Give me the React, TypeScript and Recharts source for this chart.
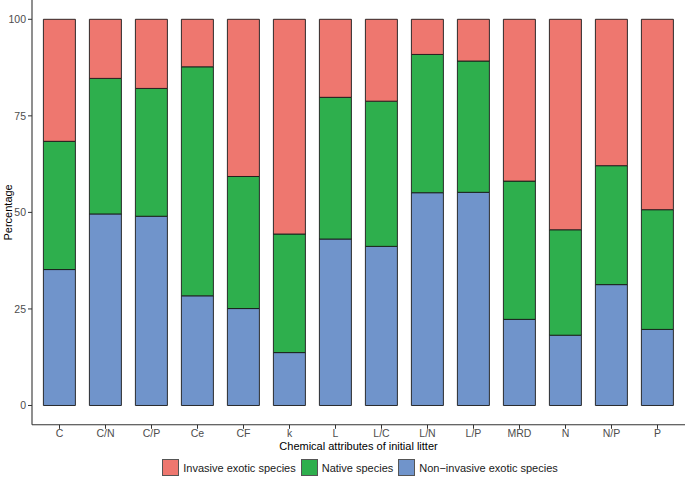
import { BarChart, Bar, XAxis, YAxis } from 'recharts'

const FONT = '"Liberation Sans", Arial, Helvetica, sans-serif'

const categories = ['C', 'C/N', 'C/P', 'Ce', 'CF', 'k', 'L', 'L/C', 'L/N', 'L/P', 'MRD', 'N', 'N/P', 'P']

// percentages, stacked bottom -> top
const nonInvasive = [35.2, 49.6, 49.0, 28.4, 25.1, 13.7, 43.1, 41.2, 55.1, 55.2, 22.3, 18.2, 31.3, 19.7]
const native = [33.2, 35.1, 33.1, 59.3, 34.2, 30.7, 36.7, 37.6, 35.8, 34.0, 35.8, 27.3, 30.8, 31.0]
const invasive = [31.6, 15.3, 17.9, 12.3, 40.7, 55.6, 20.2, 21.2, 9.1, 10.8, 41.9, 54.5, 37.9, 49.3]

const yTicks = [0, 25, 50, 75, 100]

const SERIES = [
  { key: 'nonInvasive', name: 'Non\u2212invasive exotic species', color: '#7094CB' },
  { key: 'native', name: 'Native species', color: '#2EAF4D' },
  { key: 'invasive', name: 'Invasive exotic species', color: '#EE776F' },
] as const

const LEGEND_ORDER = ['invasive', 'native', 'nonInvasive']

const chartData = categories.map((name, i) => ({
  name,
  nonInvasive: nonInvasive[i],
  native: native[i],
  invasive: invasive[i],
}))

const tickStyle = { fontSize: 10.5, fill: '#4d4d4d', fontFamily: FONT }

export default function App(): React.JSX.Element {
  return (
    <div style={{ position: 'absolute', left: 0, top: 0, width: 685, height: 477, background: '#fff' }}>
      <BarChart
        width={685}
        height={477}
        data={chartData}
        margin={{ top: 0, right: 0, left: 0, bottom: 0 }}
        barCategoryGap="15%"
      >
        <XAxis
          dataKey="name"
          height={52.2}
          padding={{ left: 4.5, right: 4.5 }}
          tick={tickStyle}
          tickSize={4}
          tickMargin={1}
          axisLine={{ stroke: '#333', strokeWidth: 1.1 }}
          tickLine={{ stroke: '#333' }}
          interval={0}
          label={{
            value: 'Chemical attributes of initial litter',
            position: 'insideBottom',
            offset: 27,
            style: { fontSize: 11, fill: '#000', fontFamily: FONT },
          }}
        />
        <YAxis
          width={32}
          domain={[-5, 105]}
          ticks={yTicks}
          allowDataOverflow
          tick={tickStyle}
          tickSize={4}
          tickMargin={2}
          axisLine={{ stroke: '#333', strokeWidth: 1.1 }}
          tickLine={{ stroke: '#333' }}
          label={{
            value: 'Percentage',
            angle: -90,
            position: 'insideLeft',
            offset: 8,
            style: { fontSize: 11, fill: '#000', fontFamily: FONT, textAnchor: 'middle' },
          }}
        />
        {SERIES.map((s) => (
          <Bar
            key={s.key}
            dataKey={s.key}
            name={s.name}
            stackId="a"
            fill={s.color}
            stroke="#1a1a1a"
            strokeWidth={0.9}
            isAnimationActive={false}
          />
        ))}
      </BarChart>
      <div
        style={{
          position: 'absolute',
          left: 36,
          width: 653,
          top: 459,
          display: 'flex',
          justifyContent: 'center',
          alignItems: 'center',
          fontFamily: FONT,
          fontSize: 11,
          color: '#1a1a1a',
        }}
      >
        {LEGEND_ORDER.map((k) => {
          const s = SERIES.find((x) => x.key === k)!
          return (
            <div key={k} style={{ display: 'flex', alignItems: 'center', marginRight: 5 }}>
              <div
                style={{
                  width: 15,
                  height: 15,
                  background: s.color,
                  border: '1px solid #555',
                  marginRight: 4,
                }}
              />
              <span>{s.name}</span>
            </div>
          )
        })}
      </div>
    </div>
  )
}
